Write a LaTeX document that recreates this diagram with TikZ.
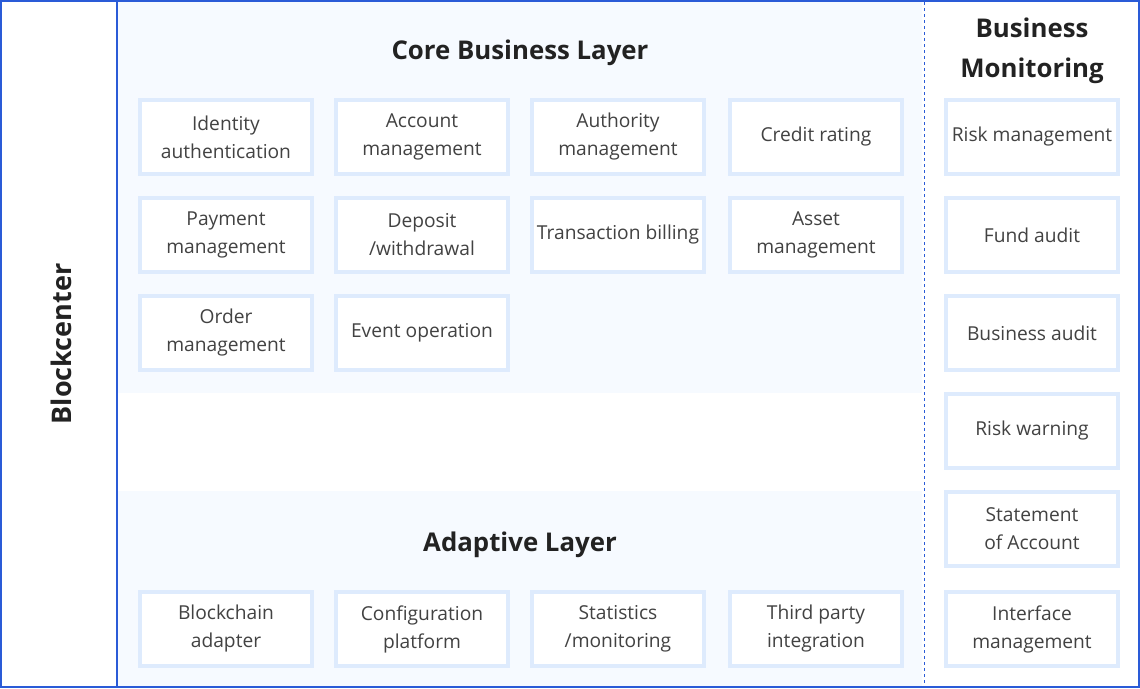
\documentclass[tikz,border=0pt]{standalone}
\usepackage{fontspec}
\setmainfont{Open Sans}
\definecolor{frame}{RGB}{42,91,215}
\definecolor{layerbg}{RGB}{246,250,255}
\definecolor{boxedge}{RGB}{222,235,253}
\definecolor{txt}{RGB}{66,66,66}
\definecolor{ttl}{RGB}{34,34,34}
\begin{document}
\begin{tikzpicture}[x=1pt,y=-1pt,
  item/.style={draw=boxedge,line width=3.5pt,fill=white,minimum width=172pt,minimum height=74pt,
    inner sep=0pt,align=center,text=txt,font=\fontsize{19.2}{28}\selectfont},
  title/.style={text=ttl,font=\fontsize{25.8}{40}\selectfont\bfseries,align=center},
]
\useasboundingbox (0,0) rectangle (1140,688);
% layer backgrounds
\fill[layerbg] (118,2) rectangle (922,393);
\fill[layerbg] (118,491) rectangle (922,686);
% frames
\draw[frame,line width=1pt,dash pattern=on 3pt off 3pt] (924,2) -- (924,686);
\draw[frame,line width=2pt] (117,1) -- (117,687);
\draw[frame,line width=2.4pt] (1.2,1.2) rectangle (1138.8,686.8);
% titles
\node[title] (core) at (520,53) {Core Business Layer};
\node[title] (adapt) at (520,545) {Adaptive Layer};
\node[title] (mon) at (1032,51) {Business\\Monitoring};
\node[title,rotate=90,font=\fontsize{27}{40}\selectfont\bfseries] (bc) at (61,344) {Blockcenter};
% core boxes
\node[item] (a1) at (226,137) {Identity\\authentication};
\node[item] (a2) at (422,137) {Account\\management};
\node[item] (a3) at (618,137) {Authority\\management};
\node[item] (a4) at (816,137) {Credit rating};
\node[item] (b1) at (226,235) {Payment\\management};
\node[item] (b2) at (422,235) {Deposit\\/withdrawal};
\node[item] (b3) at (618,235) {Transaction billing};
\node[item] (b4) at (816,235) {Asset\\management};
\node[item] (c1) at (226,333) {Order\\management};
\node[item] (c2) at (422,333) {Event operation};
% adaptive boxes
\node[item] (d1) at (226,629) {Blockchain\\adapter};
\node[item] (d2) at (422,629) {Configuration\\platform};
\node[item] (d3) at (618,629) {Statistics\\/monitoring};
\node[item] (d4) at (816,629) {Third party\\integration};
% monitoring boxes
\node[item] (m1) at (1032,137) {Risk management};
\node[item] (m2) at (1032,235) {Fund audit};
\node[item] (m3) at (1032,333) {Business audit};
\node[item] (m4) at (1032,431) {Risk warning};
\node[item] (m5) at (1032,529) {Statement\\of Account};
\node[item] (m6) at (1032,629) {Interface\\management};
\end{tikzpicture}
\end{document}
